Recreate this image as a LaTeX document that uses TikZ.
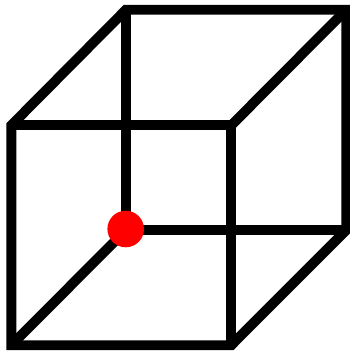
\documentclass[tikz,border=0pt]{standalone}
\tikzset{
  edgeline/.style={draw=black,line width=9.9bp,line join=miter,miter limit=10},
  hubdot/.style={circle,fill=red,draw=none,minimum size=36.6bp,inner sep=0pt,outer sep=0pt}
}
\begin{document}
\begin{tikzpicture}[x=1bp,y=-1bp]
\useasboundingbox (0,0) rectangle (350,351);
\fill[white] (0,0) rectangle (350,351);
\coordinate (ftl) at (11.3,125.3);
\coordinate (ftr) at (231.3,125.3);
\coordinate (fbl) at (11.3,345.2);
\coordinate (fbr) at (231.3,345.2);
\coordinate (btl) at (126,9.7);
\coordinate (btr) at (346.3,9.7);
\coordinate (bbl) at (126,230);
\coordinate (bbr) at (346.3,230);
\draw[edgeline] (fbl) -- (ftl) -- (btl) -- (btr) -- (bbr) -- (fbr) -- cycle;
\draw[edgeline] (ftl) -- (ftr) -- (fbr);
\draw[edgeline] (ftr) -- (btr);
\draw[edgeline] (btl) -- (bbl) -- (bbr);
\draw[edgeline] (bbl) -- (fbl);
\node[hubdot] (hub) at (125.7,229) {};
\end{tikzpicture}
\end{document}
